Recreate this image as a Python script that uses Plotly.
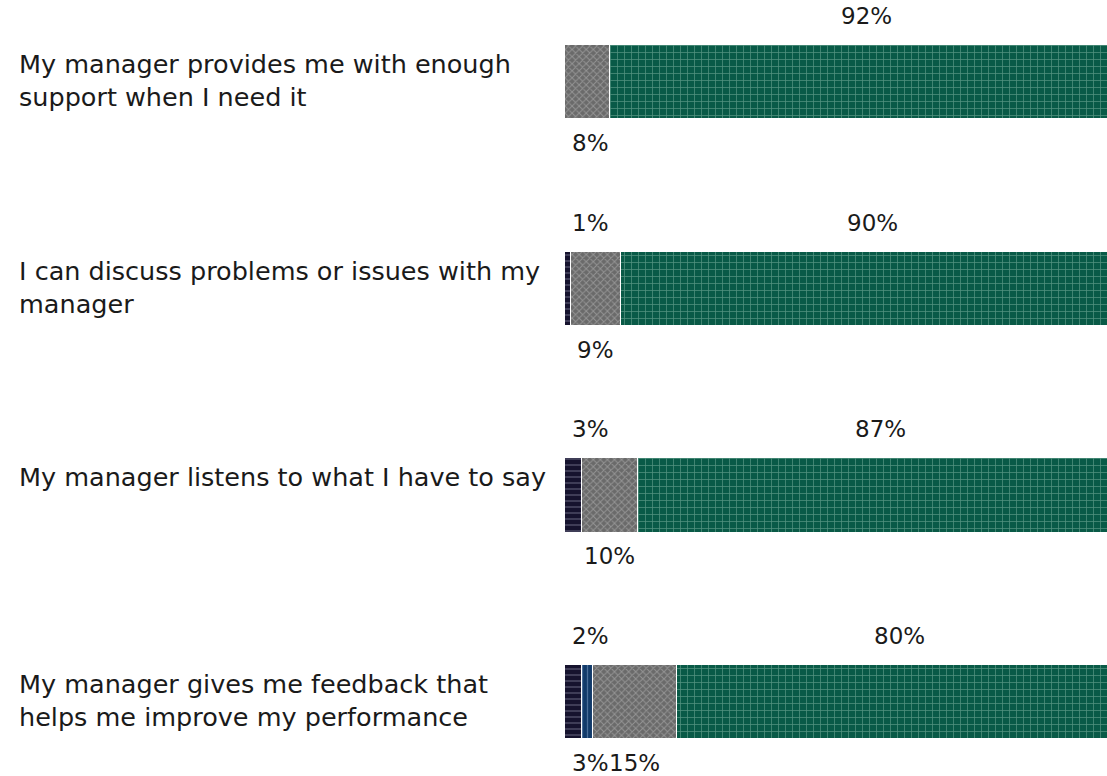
import plotly.graph_objects as go

# Survey statements (top to bottom)
categories = [
    "My manager provides me with enough support when I need it",
    "I can discuss problems or issues with my manager",
    "My manager listens to what I have to say",
    "My manager gives me feedback that helps me improve my performance",
]
category_labels = [
    "My manager provides me with enough<br>support when I need it",
    "I can discuss problems or issues with my<br>manager",
    "My manager listens to what I have to say",
    "My manager gives me feedback that<br>helps me improve my performance",
]

# Response shares (%)
disagree = [0, 1, 3, 3]
dont_know = [0, 0, 0, 2]
neutral = [8, 9, 10, 15]
agree = [92, 90, 87, 80]

series = [
    ("Disagree", disagree, dict(bgcolor="#16132e", fgcolor="#a0a0b8", shape="-", size=6, solidity=0.2)),
    ("Don't know", dont_know, dict(bgcolor="#113a69", fgcolor="#86a4cc", shape="|", size=5, solidity=0.25)),
    ("Neither agree nor disagree", neutral, dict(bgcolor="#6a6a6a", fgcolor="#bdbdbd", shape="x", size=5, solidity=0.35)),
    ("Agree", agree, dict(bgcolor="#095a47", fgcolor="#9ccbb9", shape="+", size=7, solidity=0.2)),
]

FONT = "DejaVu Sans"
fig = go.Figure()

for name, vals, pat in series:
    fig.add_trace(go.Bar(
        y=categories, x=vals, name=name, orientation="h",
        width=0.36,
        marker=dict(color=pat["bgcolor"], pattern=pat,
                    line=dict(color="white", width=1.5)),
        hoverinfo="x+name", showlegend=False,
    ))

# Value labels: alternate above/below, starting from the last segment (above)
annotations = []
for i, cat in enumerate(categories):
    values = [s[1][i] for s in series]
    starts = [sum(values[:k]) for k in range(len(values))]
    nonzero = [k for k, v in enumerate(values) if v > 0]
    for rank, k in enumerate(reversed(nonzero)):
        above = rank % 2 == 0
        mid = starts[k] + values[k] / 2
        annotations.append(dict(
            x=max(mid, 4.5), y=cat, xref="x", yref="y",
            text=f"{values[k]}%", showarrow=False,
            xanchor="center", yanchor="middle",
            yshift=66 if above else -61,
            font=dict(family=FONT, size=23, color="#1a1a1a"),
        ))
    annotations.append(dict(
        x=0.0154, y=cat, xref="paper", yref="y",
        text=category_labels[i], showarrow=False,
        xanchor="left", yanchor="top", align="left", yshift=35,
        font=dict(family=FONT, size=25.5, color="#1a1a1a"),
    ))

fig.update_layout(
    barmode="stack",
    width=1107, height=776,
    margin=dict(l=0, r=0, t=0, b=0),
    paper_bgcolor="white", plot_bgcolor="white",
    bargap=0,
    xaxis=dict(domain=[565 / 1107, 1], range=[0, 97.1], visible=False,
               showgrid=False, zeroline=False),
    yaxis=dict(type="category", range=[3.358, -0.397], visible=False,
               showgrid=False),
    annotations=annotations,
)

fig.write_html("out.html")
